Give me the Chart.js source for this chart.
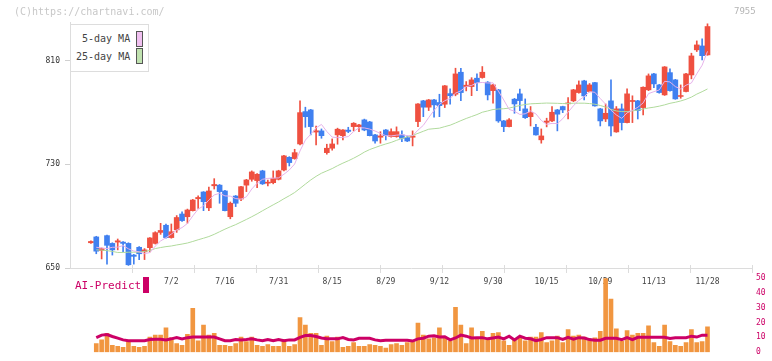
<!DOCTYPE html>
<html><head><meta charset="utf-8">
<script src="https://cdn.jsdelivr.net/npm/chart.js@4/dist/chart.umd.min.js"></script>
<style>
html,body{margin:0;padding:0;background:#fff;}
#wrap{position:relative;width:772px;height:361px;overflow:hidden;font-family:"DejaVu Sans Mono",monospace;}
canvas{position:absolute;left:0;top:0;}
.t{position:absolute;white-space:nowrap;line-height:1;z-index:5;}
</style></head><body>
<div id="wrap">
<canvas id="c1" width="772" height="361"></canvas>
<canvas id="c2" width="772" height="361"></canvas>
<div class="t" style="left:14px;top:7px;font-size:10px;color:#c8c8c8">(C)https://chartnavi.com/</div>
<div class="t" style="left:734px;top:7px;font-size:9px;color:#b4b4b4">7955</div>
<div class="t" style="left:70px;top:24px;width:77px;height:46px;border:1px solid #ddd;background:#fff"></div>
<div class="t" style="left:82px;top:34px;font-size:10px;color:#444">5-day MA</div>
<div class="t" style="left:136px;top:31px;width:5px;height:14px;border:1px solid #555;background:#f0c0f0"></div>
<div class="t" style="left:76px;top:52px;font-size:10px;color:#444">25-day MA</div>
<div class="t" style="left:136px;top:48px;width:5px;height:14px;border:1px solid #555;background:#c0e2b0"></div>
<div class="t" style="left:75px;top:280px;font-size:11px;color:#cc0066">AI-Predict</div>
<div class="t" style="left:143px;top:277px;width:6px;height:16px;background:#cc0066"></div>
</div>
<script>
// ---- data ----
const dateTickIdx = [15,25,35,45,55,65,75,85,95,105,115];
const dateTickLabels = ['7/2','7/16','7/31','8/15','8/29','9/12','9/30','10/15','10/29','11/13','11/28'];
const priceTicks = [650,730,810];
const volTicks = [0,10,20,30,40,50];

const opens = [669.5,674,663.5,675,669,670,670,669,660,666,
662.5,665.7,669,677.5,683,673.5,679.5,691.7,689.6,694.3,
703.5,708.7,696.5,713.5,714,709.5,689.6,705.6,703.3,714,
718.5,717.5,725,715.5,715.9,718.5,725.7,735.5,734.5,745.8,
770.8,772.1,755,755.9,739.1,742.5,752.8,752.2,756.5,759.2,
759.2,764.4,762.8,752.8,751,756.6,751.5,751.5,752.8,750.7,
751,763.1,779.1,774.2,779.8,777.8,776.5,784.7,784.2,801.2,
790.2,790.1,796.6,797.1,793.5,787,787.6,763.6,759.2,780.4,
784.5,772.9,766.9,758.7,749,762.5,763.6,772.1,774.7,776.8,
779.1,785.5,794.5,786.3,793.2,772.9,765.1,779.1,755.1,772.9,
762.3,778.6,779.1,773.9,787.6,799.9,791.4,783.7,800.9,795.3,
782.5,786.3,799.1,818.5,821.5,814.6];
const highs = [671,674.5,665.5,675.5,669.5,672.4,670.5,669.5,660.5,666.5,
665,673.5,678,684.5,684,684,690.5,693.3,695.5,703,
705.8,709,712.5,719,714.5,710,701,706,713,718.5,
725,723,725.5,718,725,725.5,737,736,741.7,779.1,
774.2,772.5,759.7,757.4,745.6,749.7,758,757,758.7,762.3,
761,765,763.3,753.3,755.3,757,757.5,759,755.9,752,
755.9,777,779.5,780.2,780.3,784.2,791,788.3,804.3,804.3,
794,797,799.9,805.6,794,791.8,788,764,765.5,781,
788.1,780.6,774.7,761,757.4,765.7,774.7,772.5,775,781.6,
788,794.5,795,792.5,793.5,773.3,776.7,795.3,774.7,776.7,
788.3,783,779.5,790,799.9,800.3,791.8,805.6,803.8,795.7,
791.4,800.3,815.9,825.4,827,838.6];
const lows = [669,661,657,653,660,664,662.6,652,653,656.5,
656.5,662.4,668.5,676,673,673,677.5,686,684.6,694,
696.1,694.3,694.3,711,700,694,688,697.4,702,709,
717,712,714.5,713.4,715,718,725,728.8,734,745,
758.7,752.8,745.1,750.2,737.9,741,745.6,748.9,754.5,755.9,
755.3,756,752,746.4,746.4,748.9,751,751,747.6,747.6,
744.3,759.2,766.9,771.6,766.5,766.9,773.9,776.5,783,779.3,
786.8,783.1,787,796.6,779.8,777.3,762.5,755.3,759,769.5,
771.6,765.5,759.7,752.5,746.4,759,763,755.9,770,765.1,
778.5,785,779.8,786,775,759.7,763.1,752,754.8,756.6,
762,762.3,765.1,768.2,787,789.3,785,783.3,786.5,780.3,
781.1,786,796.1,817.2,810.7,814.3];
const closes = [670.5,663,665,667.5,664,671,669,652.5,659,661,
664,673.2,677.3,679,673.5,678,689,686.6,694.8,702.5,
704.5,701.2,709.5,714.5,709,694.3,700,700,712.8,718,
724.2,722.4,715,716.3,719.3,725,736.6,731.4,739.1,770,
766.9,759.2,756,752.2,742.5,745.8,757.2,756.6,755.5,761.8,
760.5,756.6,752.2,748.1,752,752.2,755.3,755.3,750.2,748.1,
752,776.7,774.2,779.8,776,775.4,790.7,783.1,799.9,785.5,
791.2,795.3,793.2,801.2,783.7,791.4,763.6,759.2,764.4,776.7,
779.3,766.1,770,752.8,752,763.5,770.3,768.8,772.1,777.5,
787.6,791.4,782.9,791.4,775.2,763.6,769.5,759.7,772.9,762.3,
784.5,779.4,771.6,789.6,798.4,792.2,785.5,805.3,787,780.6,
783.2,799.9,813.8,822.3,814,836.5];
const ma5 = [null,666,665.5,665,666,666.1,667.3,664.8,663.1,662.5,
661.1,661.9,666.9,670.9,673.4,676.2,679.4,681.2,684.4,690.2,
695.5,697.9,702.5,706.4,707.7,705.7,705.5,703.6,703.2,705,
711,715.5,718.5,719.2,719.4,719.6,722.4,725.7,730.3,740.4,
748.8,753.3,758.2,760.9,755.4,751.1,750.7,750.9,751.5,755.4,
758.3,758.2,757.3,755.8,753.9,752.2,752,752.6,753,752.2,
752.2,756.5,760.2,766.2,771.7,776.4,779.2,781,785,786.9,
790.1,791,793,793.3,792.9,793,786.6,779.8,772.5,771.1,
768.6,769.1,771.3,769,764,760.9,761.7,761.5,765.3,770.4,
775.3,779.5,782.3,786.2,785.7,780.9,776.5,771.9,768.2,765.6,
769.8,771.8,774.1,777.5,784.7,786.2,787.5,794.2,793.7,790.1,
788.3,791.2,792.9,800,806.6,817.3];
const ma25 = [null,664,663.8,663.4,662.8,662,662,662.2,662.2,662.3,
662.8,663.5,665,665.8,666.5,667,667.8,668.5,669.3,670.5,
671.8,673,674.3,676,678,680,681.8,683.5,685.5,687.5,
689.6,691.8,694.2,696.5,698.8,701,703.5,705.8,708.3,711.5,
714.8,718,720.8,723.2,725,726.8,729,731,732.8,734.8,
737,739.5,741.5,743,744.5,745.8,747,748.6,750,751.3,
752.4,754,755.6,757.2,757.6,758,759.2,760.3,762,763.8,
765.5,767,768.5,770.3,771.3,772.4,772.8,773,773.5,774.5,
775.5,776.3,776.8,777,777.2,777.4,777.3,777.2,777,777,
777.3,777.3,777.3,777,776.5,775.5,774.3,772.5,771.3,770.8,
770.8,771.3,772,772.8,773.6,774.2,775,776,777.2,778,
779,780.3,782,784.3,786.2,788.3];
const volume = [null,5.8,8.3,12.7,4.6,4.0,3.3,7.1,4.0,3.3,
4.0,10.2,11.5,11.5,16.5,9.6,5.8,4.6,12.1,29.6,
7.7,18.3,11.5,12.7,4.6,4.6,4.0,5.8,10.2,7.1,
10.2,4.6,4.0,5.2,4.0,4.0,8.3,4.0,5.2,23.3,
18.3,12.7,12.7,4.6,10.8,7.2,10.2,3.3,4.0,6.5,
4.0,4.0,5.2,4.6,4.0,2.7,5.2,5.8,4.6,6.5,
7.1,19.6,11.5,9.0,9.6,16.5,10.2,7.7,30.2,18.3,
5.8,16.5,9.0,14.0,9.0,12.7,13.3,7.7,4.6,9.0,
9.6,7.7,10.2,10.2,13.3,6.5,7.7,10.8,6.5,15.2,
10.8,11.5,10.2,8.5,9.6,14.0,49.6,35.8,15.8,7.3,
14.6,11.5,12.7,12.7,17.7,6.5,4.0,18.3,7.1,4.6,
4.0,6.5,15.2,6.5,7.1,17.1];
const aiPredict = [null,9.8,11.5,11.9,10.6,9.5,8.3,7.7,7.7,7.7,
7.7,8.6,8.8,8.8,8.3,9.0,9.8,9.0,9.8,10.2,
10.2,10.2,10.2,10.2,9.0,7.7,7.7,8.6,8.3,8.6,
9.0,8.3,7.7,8.6,7.7,8.6,7.7,8.3,8.3,10.0,
11.2,11.3,10.6,9.6,9.0,9.0,9.0,9.8,8.6,8.3,
9.4,9.4,9.4,8.3,7.7,8.1,8.1,8.1,8.1,8.1,
7.5,9.0,9.4,10.8,11.0,10.2,10.4,8.3,9.6,11.5,
10.8,9.6,9.8,9.8,9.0,9.6,10.2,9.0,10.8,8.3,
10.8,9.4,9.0,7.7,8.6,9.8,9.8,9.8,8.6,10.0,
8.8,9.8,9.6,8.5,8.1,8.1,9.4,9.4,9.4,8.5,
9.8,8.5,10.0,10.0,10.0,10.0,10.0,10.0,9.2,9.8,
9.8,9.8,10.8,10.2,11.5,11.5];

// ---- styling ----
const MONO = '"DejaVu Sans Mono", monospace';
const UP = '#ef5040', DOWN = '#4080f0';
const XMIN = -3.9, XMAX = 123.3;
const candleCol = opens.map((o,i) => closes[i] >= o ? UP : DOWN);
const pts = arr => arr.map((v,i) => ({x:i, y:v}));

const bottomTicks = {
  id:'bottomTicks',
  afterDraw(chart){
    const {ctx, chartArea:{left,right,bottom}} = chart;
    ctx.save(); ctx.strokeStyle='#dcdcdc'; ctx.lineWidth=1;
    const n = 11;
    for(let k=1;k<=n;k++){
      const x = Math.round(left + k*(right-left)/n) + 0.5;
      ctx.beginPath(); ctx.moveTo(x,bottom-3); ctx.lineTo(x,bottom+5); ctx.stroke();
    }
    ctx.restore();
  }
};

new Chart(document.getElementById('c1'), {
  data: {
    datasets: [
      {type:'line', label:'5-day MA', data: pts(ma5), borderColor:'#e6b2ea', borderWidth:1, pointRadius:0, tension:0, order:0},
      {type:'line', label:'25-day MA', data: pts(ma25), borderColor:'#b0da9c', borderWidth:1, pointRadius:0, tension:0, order:0},
      {type:'bar', data: opens.map((o,i)=>({x:i, y:[o, closes[i]]})), backgroundColor: candleCol, barThickness:5, grouped:false, order:1},
      {type:'bar', data: lows.map((l,i)=>({x:i, y:[l, highs[i]]})), backgroundColor: candleCol, barThickness:1, grouped:false, order:2}
    ]
  },
  options: {
    responsive:false, animation:false, events:[],
    layout:{padding:{left:0,right:20,top:22,bottom:0}},
    plugins:{legend:{display:false}, tooltip:{enabled:false}},
    scales:{
      x:{type:'linear', min:XMIN, max:XMAX, offset:false,
         afterBuildTicks: s => { s.ticks = dateTickIdx.map(v=>({value:v})); },
         ticks:{callback:(v,k)=>dateTickLabels[k], autoSkip:false, maxRotation:0, font:{family:MONO,size:8}, color:'#444', padding:9},
         grid:{display:false, drawTicks:false},
         border:{display:true, color:'#dcdcdc'},
         afterFit: s => { s.height = 93; }
      },
      y:{type:'linear', min:650, max:840,
         afterBuildTicks: s => { s.ticks = priceTicks.map(v=>({value:v})); },
         ticks:{font:{family:MONO,size:8}, color:'#333', padding:5},
         grid:{drawOnChartArea:false, tickLength:5, color:'#d0d0d0'},
         border:{display:true, color:'#dcdcdc'},
         afterFit: s => { s.width = 70; }
      }
    }
  },
  plugins:[bottomTicks]
});

new Chart(document.getElementById('c2'), {
  data: {
    datasets: [
      {type:'line', data: pts(aiPredict), borderColor:'#cc0066', borderWidth:3, pointRadius:0, tension:0, order:0},
      {type:'bar', data: pts(volume), backgroundColor:'#f19640', barThickness:4, grouped:false, order:1}
    ]
  },
  options: {
    responsive:false, animation:false, events:[],
    layout:{padding:{left:70,right:0,top:278,bottom:3}},
    plugins:{legend:{display:false}, tooltip:{enabled:false}},
    scales:{
      x:{type:'linear', min:XMIN, max:XMAX, offset:false, display:true,
         ticks:{display:false}, grid:{display:false, drawTicks:false}, border:{display:false},
         afterFit: s => { s.height = 0; s.paddingLeft = 0; s.paddingRight = 0; }
      },
      y:{type:'linear', position:'right', min:0, max:50,
         afterBuildTicks: s => { s.ticks = volTicks.map(v=>({value:v})); },
         ticks:{font:{family:MONO,size:8}, color:'#cc0066', padding:4},
         grid:{display:false, drawTicks:false},
         border:{display:false},
         afterFit: s => { s.width = 20; }
      }
    }
  }
});
</script>
</body></html>
